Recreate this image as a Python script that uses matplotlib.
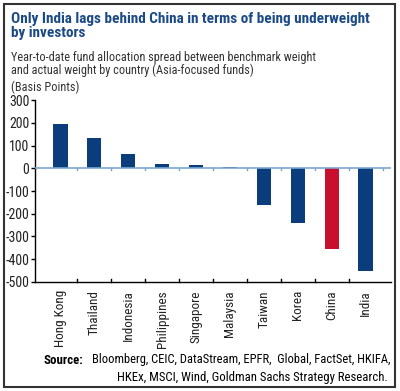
import matplotlib
matplotlib.use('Agg')
import matplotlib.pyplot as plt
from matplotlib.patches import Rectangle
import numpy as np

plt.rcParams['font.family'] = ['Roboto Condensed', 'DejaVu Sans']

# data (basis points)
countries = ['Hong Kong', 'Thailand', 'Indonesia', 'Philippines', 'Singapore',
             'Malaysia', 'Taiwan', 'Korea', 'China', 'India']
spread = [195, 132, 64, 17, 13, 6, -162, -240, -353, -453]
highlight = 'China'
y_ticks = [300, 200, 100, 0, -100, -200, -300, -400, -500]

navy = '#0b3d7c'
red = '#c8102e'
title_col = '#1b4a86'
zero_col = '#7aa7d0'

fig = plt.figure(figsize=(4.0, 3.91), dpi=100)
ax = fig.add_axes([0.0875, 0.279, 0.89, 0.465])

x = np.arange(len(countries))
colors = [red if c == highlight else navy for c in countries]
ax.bar(x, spread, width=0.42, color=colors, zorder=2)

ax.set_xlim(-0.75, len(countries) - 0.25)
ax.set_ylim(-500, 300)
ax.set_yticks(y_ticks)
ax.set_yticklabels([str(t) for t in y_ticks], fontsize=10, color='#222222')
ax.tick_params(axis='y', direction='out', length=3, width=1, pad=1)

# category ticks between bars on the bottom spine
ax.set_xticks(x)
ax.set_xticklabels(countries, rotation=90, fontsize=9.5, va='top', color='#222222')
ax.tick_params(axis='x', length=0, pad=6)
bounds = np.arange(len(countries)) + 0.5
for b in bounds[:-1]:
    ax.plot([b, b], [-500, -488], color='black', lw=1, clip_on=False, zorder=3)
    ax.plot([b, b], [0, -8], color=zero_col, lw=1, zorder=3)
ax.plot([bounds[-1], bounds[-1]], [0, -8], color=zero_col, lw=1, zorder=3)

ax.axhline(0, color=zero_col, lw=1.2, zorder=3)

for s in ['top', 'right']:
    ax.spines[s].set_visible(False)
ax.spines['left'].set_linewidth(1)
ax.spines['bottom'].set_linewidth(1)

# titles
fig.text(11 / 400, 1 - 26 / 391, 'Only India lags behind China in terms of being underweight\nby investors',
         fontsize=11, fontweight='bold', color=title_col, va='center', linespacing=1.0)
fig.text(11 / 400, 1 - 64 / 391, 'Year-to-date fund allocation spread between benchmark weight\nand actual weight by country (Asia-focused funds)',
         fontsize=8.8, color='#333333', va='center', linespacing=1.05)
fig.text(11 / 400, 1 - 87 / 391, '(Basis Points)', fontsize=8.8, color='#333333', va='center')

# source
fig.text(44 / 400, 1 - 360 / 391, 'Source:', fontsize=9.3, fontweight='bold', va='center')
fig.text(390 / 400, 1 - 360 / 391, 'Bloomberg, CEIC, DataStream, EPFR,  Global, FactSet, HKIFA,',
         fontsize=9.0, ha='right', va='center')
fig.text(388 / 400, 1 - 377 / 391, 'HKEx, MSCI, Wind, Goldman Sachs Strategy Research.',
         fontsize=9.2, ha='right', va='center')

# outer frame
fig.patches.append(Rectangle((4 / 400, 4 / 391), 391 / 400, 383 / 391, transform=fig.transFigure,
                             fill=False, edgecolor='#333333', lw=1.5))

plt.savefig('out.png', dpi=100)
